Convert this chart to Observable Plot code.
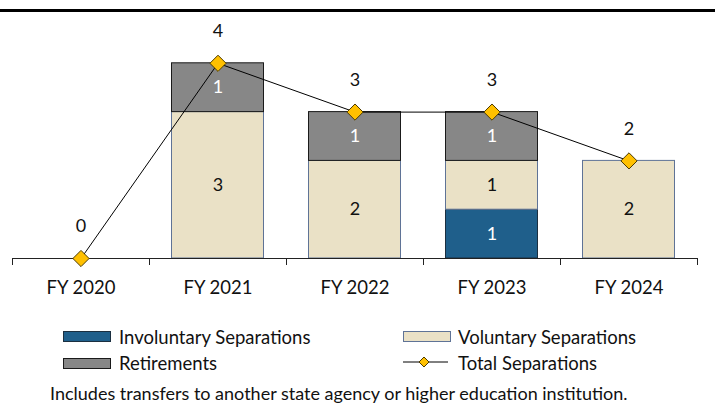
<!DOCTYPE html>
<html><head><meta charset="utf-8">
<script src="https://cdn.jsdelivr.net/npm/d3@7"></script>
<script src="https://cdn.jsdelivr.net/npm/@observablehq/plot@0.6"></script>
<style>
body{margin:0;background:#fff;font-family:Lato,"Open Sans",sans-serif;color:#111;}
#wrap{position:relative;width:715px;height:403px;overflow:hidden;background:#fff;}
#chart{position:absolute;left:0;top:0;}
#rule{position:absolute;left:0;top:9px;width:715px;height:3px;background:#000;}
.sw{position:absolute;width:48px;height:11px;box-sizing:border-box;}
.lt{position:absolute;font-size:18.5px;line-height:22px;white-space:nowrap;}
#caption{position:absolute;left:50px;top:382px;font-size:18px;line-height:22px;white-space:nowrap;}
</style></head><body>
<div id="wrap"><div id="chart"></div><div id="rule"></div><div id="legend"></div><div id="caption"></div></div>
<script>
const years = ["FY 2020","FY 2021","FY 2022","FY 2023","FY 2024"];
const involuntary = [0,0,0,1,0];
const voluntary = [0,3,2,1,2];
const retirements = [0,1,1,1,0];
const totals = [0,4,3,3,2];
const seriesNames = ["Involuntary Separations","Voluntary Separations","Retirements","Total Separations"];
const captionText = "Includes transfers to another state agency or higher education institution.";

const fillMap = {"Involuntary Separations":"#1F5F8B","Voluntary Separations":"#EAE1C6","Retirements":"#878787"};
const strokeMap = {"Involuntary Separations":"#1b2f40","Voluntary Separations":"#5f7396","Retirements":"#1a1a1a"};
const textMap = {"Involuntary Separations":"#fff","Voluntary Separations":"#111","Retirements":"#fff"};

const segs = [];
years.forEach((y,i)=>{
  [[seriesNames[0],involuntary[i]],[seriesNames[1],voluntary[i]],[seriesNames[2],retirements[i]]]
    .forEach(([s,v])=>{ if(v>0) segs.push({year:y,series:s,value:v}); });
});
const totalData = years.map((y,i)=>({year:y,total:totals[i]}));

const W=715,H=310,ML=12,MR=18,MT=14,MB=52;
const half=(W-ML-MR)/years.length/2;
const order = seriesNames.slice(0,3);

const chart = Plot.plot({
  width:W,height:H,marginLeft:ML,marginRight:MR,marginTop:MT,marginBottom:MB,
  style:{fontFamily:"Lato, 'Open Sans', sans-serif",background:"transparent",color:"#111"},
  x:{domain:years,padding:0},
  y:{domain:[0,5],axis:null},
  color:{type:"identity"},
  marks:[
    Plot.barY(segs, Plot.stackY({x:"year",y:"value",z:"series",order,
      fill:d=>fillMap[d.series],stroke:d=>strokeMap[d.series],strokeWidth:1,insetLeft:22.5,insetRight:22.5})),
    Plot.text(segs, Plot.stackY({x:"year",y:"value",z:"series",order,text:"value",
      fill:d=>textMap[d.series],fontSize:18})),
    Plot.ruleY([0],{stroke:"#222",strokeWidth:1}),
    Plot.ruleX(years,{x:d=>d,dx:-half,y1:0,y2:0,insetBottom:-7,stroke:"#222"}),
    Plot.ruleX([years[years.length-1]],{x:d=>d,dx:half,y1:0,y2:0,insetBottom:-7,stroke:"#222"}),
    Plot.axisX({tickSize:0,tickPadding:22,fontSize:18.5,label:null}),
    Plot.line(totalData,{x:"year",y:"total",stroke:"#000",strokeWidth:1}),
    Plot.dot(totalData,{x:"year",y:"total",symbol:"diamond2",r:7.3,fill:"#FFC000",stroke:"#4d3b00",strokeWidth:1}),
    Plot.text(totalData,{x:"year",y:"total",text:"total",dy:-32,fontSize:18,fill:"#111"})
  ]
});
document.getElementById("chart").appendChild(chart);

const leg = document.getElementById("legend");
function sw(left,top,name){
  const d=document.createElement("div");d.className="sw";
  d.style.left=left+"px";d.style.top=top+"px";
  d.style.background=fillMap[name];d.style.border="1px solid "+strokeMap[name];
  leg.appendChild(d);
}
function lt(left,center,txt){
  const d=document.createElement("div");d.className="lt";
  d.style.left=left+"px";d.style.top=(center-11)+"px";d.textContent=txt;leg.appendChild(d);
}
sw(63,331,seriesNames[0]); lt(119,336.5,seriesNames[0]);
sw(403,331,seriesNames[1]); lt(458,336.5,seriesNames[1]);
sw(63,357.5,seriesNames[2]); lt(119,363,seriesNames[2]);
const ns="http://www.w3.org/2000/svg";
const s=document.createElementNS(ns,"svg");
s.setAttribute("width",50);s.setAttribute("height",20);
s.style.position="absolute";s.style.left="401px";s.style.top="352px";
s.innerHTML='<line x1="2" y1="10" x2="47" y2="10" stroke="#000" stroke-width="1"/><path d="M23,5L28,10L23,15L18,10Z" fill="#FFC000" stroke="#4d3b00" stroke-width="1"/>';
leg.appendChild(s);
lt(458,363,seriesNames[3]);
document.getElementById("caption").textContent=captionText;
</script>
</body></html>
